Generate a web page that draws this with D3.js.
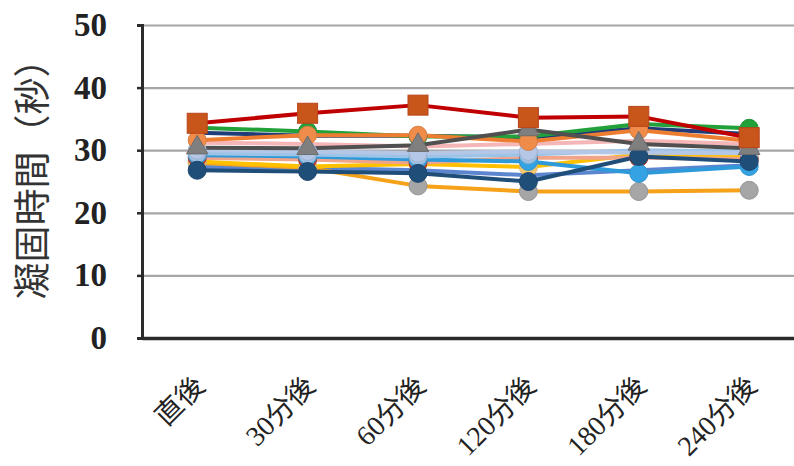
<!DOCTYPE html>
<html><head><meta charset="utf-8">
<script src="https://cdn.jsdelivr.net/npm/d3@7"></script>
<style>
html,body{margin:0;padding:0;background:#fff;}
svg{display:block;}
</style></head>
<body>
<svg id="chart" width="794" height="466"></svg>
<script>
const categories = ["直後", "30分後", "60分後", "120分後", "180分後", "240分後"];
const yTicks = [0, 10, 20, 30, 40, 50];
const yTitle = "凝固時間（秒）";

const sBlueDiag  = [27.3, 27.2, 26.8, 26.0, 26.8, 27.6];
const sDarkBlue  = [26.8, 26.6, 26.3, 25.0, 29.0, 28.2];
const sOrangeG   = [28.0, 27.2, 24.3, 23.4, 23.4, 23.6];
const sGold      = [28.2, 27.4, 27.8, 27.3, 29.3, 29.0];
const sSalmon    = [28.8, 28.5, 28.0, 28.8, 28.8, 28.6];
const sMidBlue   = [29.2, 29.0, 28.5, 28.2, 26.3, 27.4];
const sLightBlue = [29.5, 29.3, 29.0, 29.3, 30.0, 29.8];
const sSteel     = [30.0, 29.8, 29.5, 29.8, 29.6, 29.5];
const sPink      = [31.2, 31.0, 30.6, 31.0, 31.5, 31.0];
const sNavy      = [32.8, 32.3, 32.3, 32.0, 33.5, 32.6];
const sGreen     = [33.6, 33.0, 32.2, 32.2, 34.2, 33.5];
const sOrange    = [31.6, 32.4, 32.4, 31.4, 33.2, 31.5];
const sGrayTri   = [30.4, 30.3, 30.8, 33.3, 31.0, 30.3];
const sRed       = [34.3, 35.9, 37.2, 35.2, 35.4, 32.0];

const series = [
  {values: sBlueDiag,  line: "#5b86cf", marker: "#5b86cf", shape: "none"},
  {values: sOrangeG,   line: "#f5a21a", marker: "#a6a6a6", shape: "circle"},
  {values: sGold,      line: "#ffc000", marker: "#f9c96b", shape: "circle"},
  {values: sSalmon,    line: "#f0a48a", marker: "#c0392b", shape: "circle"},
  {values: sMidBlue,   line: "#2e9ad9", marker: "#35a3e3", shape: "circle"},
  {values: sLightBlue, line: "#9dc3e6", marker: "#9dc3e6", shape: "circle"},
  {values: sSteel,     line: "#b4c7e7", marker: "#b4c7e7", shape: "circle"},
  {values: sPink,      line: "#f4b6b6", marker: "#f4b6b6", shape: "none"},
  {values: sNavy,      line: "#1f3c78", marker: "#1f3c78", shape: "none"},
  {values: sGreen,     line: "#22a03a", marker: "#22a03a", shape: "circle"},
  {values: sDarkBlue,  line: "#1f4e79", marker: "#1f4e79", shape: "circle"},
  {values: sOrange,    line: "#ed7d31", marker: "#f08c4a", shape: "circle"},
  {values: sGrayTri,   line: "#505050", marker: "#7f7f7f", shape: "triangle"},
  {values: sRed,       line: "#c00000", marker: "#c8561a", shape: "square"}
];

const svg = d3.select("#chart");
const mLeft = 142, mTop = 25, mBottom = 338, mRight = 804.4;

const x = d3.scaleBand().domain(categories).range([mLeft, mRight]).padding(0);
const cx = c => x(c) + x.bandwidth() / 2;
const y = d3.scaleLinear().domain([0, 50]).range([mBottom, mTop]);

// gridlines
svg.append("g")
  .attr("transform", `translate(${mLeft},0)`)
  .call(d3.axisLeft(y).tickValues(yTicks.filter(d => d > 0)).tickSize(-(mRight - mLeft)).tickFormat(""))
  .call(g => g.select(".domain").remove())
  .call(g => g.selectAll("line").attr("stroke", "#a6a6a6").attr("stroke-width", 2.2));

// y axis
const yAxis = svg.append("g")
  .attr("transform", `translate(${mLeft},0)`)
  .call(d3.axisLeft(y).tickValues(yTicks).tickSize(5).tickPadding(30).tickFormat(d3.format("d")));
yAxis.select(".domain").attr("stroke", "#2b2b2b").attr("stroke-width", 3);
yAxis.selectAll("line").attr("stroke", "#2b2b2b").attr("stroke-width", 2.5);
yAxis.selectAll("text")
  .attr("fill", "#222")
  .style("font-family", "'Liberation Serif', serif")
  .style("font-size", "33px")
  .style("font-weight", "bold");

// x axis line
const xAxis = svg.append("g")
  .attr("transform", `translate(0,${mBottom})`)
  .call(d3.axisBottom(x).tickSize(0).tickPadding(0));
xAxis.select(".domain").attr("stroke", "#2b2b2b").attr("stroke-width", 3.5);
xAxis.selectAll("text")
  .attr("text-anchor", "end")
  .attr("dy", "0")
  .attr("fill", "#222")
  .attr("transform", "translate(9,50) rotate(-45)")
  .style("font-family", "'Liberation Serif', 'Noto Sans CJK JP', serif")
  .style("font-size", "28px");

// y title
svg.append("text")
  .attr("transform", "translate(46,170) rotate(-90)")
  .attr("text-anchor", "middle")
  .attr("fill", "#333")
  .style("font-family", "'Noto Sans CJK JP', sans-serif")
  .style("font-size", "37px")
  .text(yTitle);

// lines
const line = d3.line().x((d, i) => cx(categories[i])).y(d => y(d));
svg.append("g").selectAll("path").data(series).join("path")
  .attr("d", s => line(s.values))
  .attr("fill", "none")
  .attr("stroke", s => s.line)
  .attr("stroke-width", 4)
  .attr("stroke-linejoin", "round");

// markers
const mg = svg.append("g");
series.forEach(s => {
  if (s.shape === "none") return;
  const g = mg.append("g");
  s.values.forEach((v, i) => {
    const px = cx(categories[i]), py = y(v);
    if (s.shape === "circle") {
      g.append("circle").attr("cx", px).attr("cy", py).attr("r", 9)
        .attr("fill", s.marker).attr("stroke", d3.color(s.marker).darker(0.3)).attr("stroke-width", 1);
    } else if (s.shape === "square") {
      g.append("rect").attr("x", px - 10).attr("y", py - 10).attr("width", 20).attr("height", 20)
        .attr("fill", s.marker).attr("stroke", "#b9441a").attr("stroke-width", 1);
    } else if (s.shape === "triangle") {
      g.append("path")
        .attr("d", d3.symbol().type(d3.symbolTriangle).size(200)())
        .attr("transform", `translate(${px},${py})`)
        .attr("fill", s.marker).attr("stroke", "#6d6d6d").attr("stroke-width", 1);
    }
  });
});
</script>
</body></html>
